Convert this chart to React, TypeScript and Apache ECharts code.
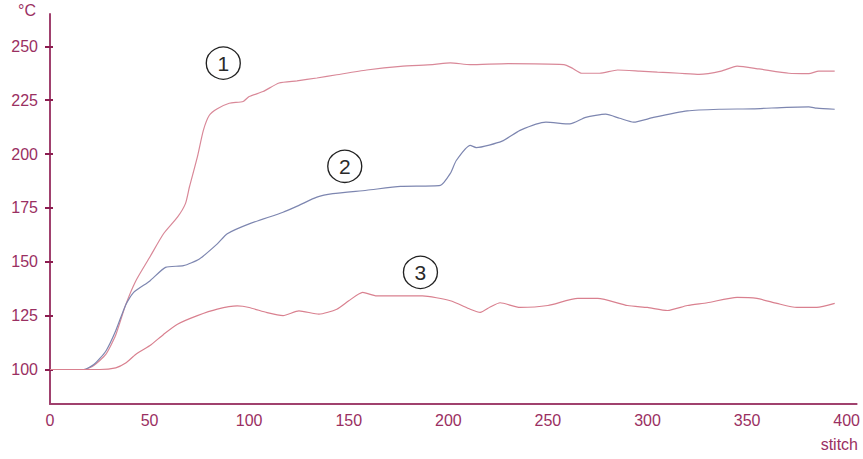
import React, { useEffect, useRef } from "react";
import * as echarts from "echarts";

const yTicks = [100, 125, 150, 175, 200, 225, 250];
const xTicks = [0, 50, 100, 150, 200, 250, 300, 350, 400];

const s1x = [0, 17, 22, 28, 33, 38, 43, 50, 57, 64, 68, 70, 74, 77, 80, 84, 90, 97, 100, 107, 115, 124, 134, 144, 159, 176, 192, 201, 211, 230, 258, 262, 267, 276, 285, 296, 305, 316, 326, 337, 345, 356, 371, 381, 386, 394];
const s1y = [100, 100, 101.9, 107, 116, 130, 141, 152, 163, 170.7, 177, 184.7, 198.7, 211, 218, 221, 223.6, 224.4, 226.7, 229, 233, 234, 235.3, 236.8, 239, 240.7, 241.5, 242.3, 241.5, 242, 241.5, 240, 237.5, 237.5, 239, 238.5, 238, 237.5, 237, 238.5, 240.8, 239.5, 237.5, 237.3, 238.5, 238.5];

const s2x = [0, 17, 22, 28, 33, 38, 42, 50, 58, 67, 75, 84, 89, 100, 117, 125, 134, 142, 159, 176, 196, 201, 204, 211, 214, 227, 236, 249, 261, 269, 279, 286, 293, 303, 320, 336, 353, 370, 381, 385, 394];
const s2y = [100, 100, 102.3, 108.5, 118, 130, 135.8, 141, 147.4, 148.2, 151.3, 158.3, 163, 167.6, 173, 176.2, 180, 181.6, 183.2, 185, 185.5, 191, 197, 204, 203, 206, 211, 214.8, 214, 217, 218.5, 216.6, 214.8, 217, 220, 220.8, 221, 221.7, 221.9, 221.3, 220.8];

const s3x = [0, 25, 33, 38, 43, 50, 57, 64, 74, 84, 94, 100, 109, 117, 125, 135, 144, 150, 157, 164, 176, 187, 201, 211, 216, 221, 226, 236, 250, 265, 275, 290, 300, 310, 320, 330, 345, 355, 365, 375, 385, 394];
const s3y = [100, 100, 100.8, 103, 107, 111, 116.3, 121, 125, 128, 129.5, 128.8, 126.4, 125, 127.2, 125.7, 128, 131.9, 135.8, 134.2, 134.2, 134.2, 131.9, 128, 126.5, 129, 131, 128.8, 129.7, 133, 133, 129.7, 128.8, 127.4, 129.7, 131, 133.5, 133, 130.7, 128.8, 128.8, 130.7];

const labels = ["1", "2", "3"];
const labelPos: [number, number][] = [
  [87, 242.2],
  [148, 194.3],
  [186, 145.1],
];

const zip = (xs: number[], ys: number[]) => xs.map((x, i) => [x, ys[i]]);

const axisColor = "#a0416e";
const labelColor = "#9a2f62";
const font = "Liberation Sans";

export default function App() {
  const ref = useRef<HTMLDivElement>(null);
  useEffect(() => {
    document.body.style.margin = "0";
    const chart = echarts.init(ref.current!, null, { renderer: "svg" });
    const mk = (i: number) => ({
      symbol: "circle",
      symbolSize: [34, 32],
      silent: true,
      itemStyle: { color: "rgba(255,255,255,0)", borderColor: "#222", borderWidth: 1.3 },
      label: {
        show: true,
        position: "inside",
        formatter: labels[i],
        color: "#2a2a2a",
        fontSize: 21,
        fontFamily: font,
      },
      data: [{ coord: labelPos[i] }],
    });
    const lineColors = ["#d98898", "#7d86b0", "#d9808f"];
    const datas = [zip(s1x, s1y), zip(s2x, s2y), zip(s3x, s3y)];
    chart.setOption({
      animation: false,
      grid: { left: 50, right: 6, top: 14, bottom: 55 },
      xAxis: {
        type: "value",
        min: 0,
        max: 405,
        interval: 50,
        splitLine: { show: false },
        axisTick: { show: false },
        axisLine: { lineStyle: { color: axisColor, width: 2 } },
        axisLabel: {
          customValues: xTicks,
          color: labelColor,
          fontSize: 16,
          fontFamily: font,
          margin: 8,
        },
      },
      yAxis: [
        {
          type: "value",
          min: 84,
          max: 265,
          splitLine: { show: false },
          axisLine: { show: true, lineStyle: { color: axisColor, width: 2 } },
          axisTick: {
            show: true,
            length: 5,
            customValues: yTicks,
            lineStyle: { color: "#8c1d50", width: 2 },
          },
          axisLabel: {
            customValues: yTicks,
            color: labelColor,
            fontSize: 16,
            fontFamily: font,
            margin: 12,
          },
        },
        {
          type: "value",
          position: "left",
          min: 84,
          max: 265,
          splitLine: { show: false },
          axisLine: { show: false },
          axisLabel: { show: false },
          axisTick: {
            show: true,
            inside: true,
            length: 3,
            customValues: yTicks,
            lineStyle: { color: "#8c1d50", width: 2 },
          },
        },
      ],
      graphic: [
        {
          type: "text",
          left: 18,
          top: 2,
          style: { text: "°C", fill: labelColor, fontSize: 16, fontFamily: font },
        },
        {
          type: "text",
          right: 5,
          top: 436,
          style: { text: "stitch", fill: labelColor, fontSize: 16, fontFamily: font },
        },
      ],
      series: datas.map((d, i) => ({
        type: "line",
        data: d,
        showSymbol: false,
        smooth: 0.2,
        lineStyle: { color: lineColors[i], width: 1.2 },
        markPoint: mk(i),
      })),
    });
    return () => chart.dispose();
  }, []);
  return <div ref={ref} style={{ width: 863, height: 459 }} />;
}
